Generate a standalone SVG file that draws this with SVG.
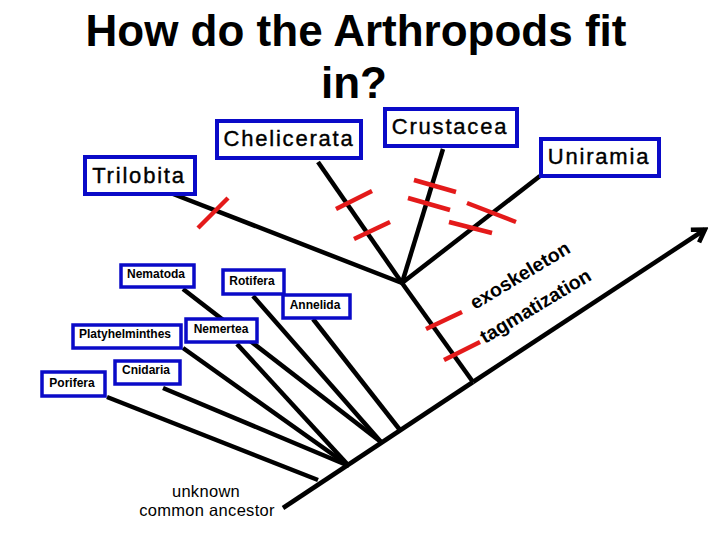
<svg xmlns="http://www.w3.org/2000/svg" width="720" height="540" viewBox="0 0 720 540">
<style>
text{font-family:"Liberation Sans",Arial,sans-serif;fill:#000}
.title{font-size:44px;font-weight:bold;text-anchor:middle}
.big rect{fill:#fff;stroke:#0a0ac8;stroke-width:4}
.big text{font-size:22px;letter-spacing:1.8px;text-anchor:middle;stroke:#000;stroke-width:0.4}
.small rect{fill:#fff;stroke:#0a0ac8;stroke-width:3.5}
.small text{font-size:12px;font-weight:bold;text-anchor:middle}
.br{stroke:#000;stroke-width:4.5;fill:none;stroke-linecap:butt}
.tick{stroke:#e41a1a;stroke-width:4.5;fill:none}
.trait{font-size:19.5px;font-weight:bold}
.anc{font-size:16.5px;text-anchor:middle;letter-spacing:0.3px}
</style>
<defs>
<marker id="ah" markerWidth="20" markerHeight="20" viewBox="-16 -10 20 20" refX="0" refY="0" orient="auto" markerUnits="userSpaceOnUse">
<path d="M-12,-7.5 L0,0 L-12,7.5" fill="none" stroke="#000" stroke-width="4.5"/>
</marker>
</defs>
<text class="title" x="356" y="46">How do the Arthropods fit</text>
<text class="title" x="354" y="98">in?</text>
<g id="connectors">
<line class="br" x1="107" y1="397" x2="318" y2="480"/>
<line class="br" x1="163" y1="388" x2="349" y2="466"/>
<line class="br" x1="183" y1="348" x2="349" y2="466"/>
<line class="br" x1="237" y1="344" x2="349" y2="466"/>
<line class="br" x1="183" y1="289" x2="381" y2="442"/>
<line class="br" x1="253" y1="296" x2="381" y2="442"/>
<line class="br" x1="313" y1="319" x2="400" y2="430"/>
<line class="br" x1="283" y1="508" x2="473" y2="382"/>
<line class="br" x1="473" y1="382" x2="705" y2="229.5" marker-end="url(#ah)"/>
<line class="br" x1="473" y1="382" x2="402" y2="283"/>
<line class="br" x1="168" y1="192" x2="402" y2="283"/>
<line class="br" x1="318" y1="162" x2="402" y2="283"/>
<line class="br" x1="443" y1="149" x2="402" y2="283"/>
<line class="br" x1="540" y1="176" x2="402" y2="283"/>
<line class="tick" x1="198" y1="228" x2="228" y2="198"/>
<line class="tick" x1="336" y1="209" x2="372" y2="191"/>
<line class="tick" x1="354" y1="239" x2="390" y2="222"/>
<line class="tick" x1="414" y1="180" x2="456" y2="192"/>
<line class="tick" x1="408" y1="198" x2="450" y2="210"/>
<line class="tick" x1="467" y1="203" x2="516" y2="222"/>
<line class="tick" x1="449" y1="222" x2="492" y2="233"/>
<line class="tick" x1="426" y1="329" x2="462" y2="312"/>
<line class="tick" x1="444" y1="360" x2="480" y2="342"/>
</g>
<text class="trait" transform="translate(475,310) rotate(-31)">exoskeleton</text>
<text class="trait" transform="translate(485,344) rotate(-31)">tagmatization</text>
<g id="chelicerata" class="big"><rect x="217" y="121" width="144" height="37"/><text x="289" y="146">Chelicerata</text></g>
<g id="crustacea" class="big"><rect x="385" y="109" width="132" height="37"/><text x="450" y="134">Crustacea</text></g>
<g id="uniramia" class="big"><rect x="541" y="139" width="118" height="37"/><text x="599" y="164">Uniramia</text></g>
<g id="trilobita" class="big"><rect x="85" y="157" width="110" height="37"/><text x="139" y="183">Trilobita</text></g>
<g id="nematoda" class="small"><rect x="121" y="265" width="73" height="22"/><text x="156" y="278">Nematoda</text></g>
<g id="rotifera" class="small"><rect x="223" y="270" width="61" height="24"/><text x="252" y="285">Rotifera</text></g>
<g id="annelida" class="small"><rect x="283" y="295" width="67" height="23"/><text x="315" y="309">Annelida</text></g>
<g id="nemertea" class="small"><rect x="186" y="319" width="71" height="23"/><text x="221" y="333">Nemertea</text></g>
<g id="platyhelminthes" class="small"><rect x="73" y="325" width="108" height="23"/><text x="125" y="338">Platyhelminthes</text></g>
<g id="cnidaria" class="small"><rect x="115" y="361" width="65" height="23"/><text x="146" y="374">Cnidaria</text></g>
<g id="porifera" class="small"><rect x="42" y="372" width="63" height="24"/><text x="72" y="387">Porifera</text></g>
<g id="ancestor"><text class="anc" x="206" y="497">unknown</text><text class="anc" x="207" y="516">common ancestor</text></g>
</svg>
